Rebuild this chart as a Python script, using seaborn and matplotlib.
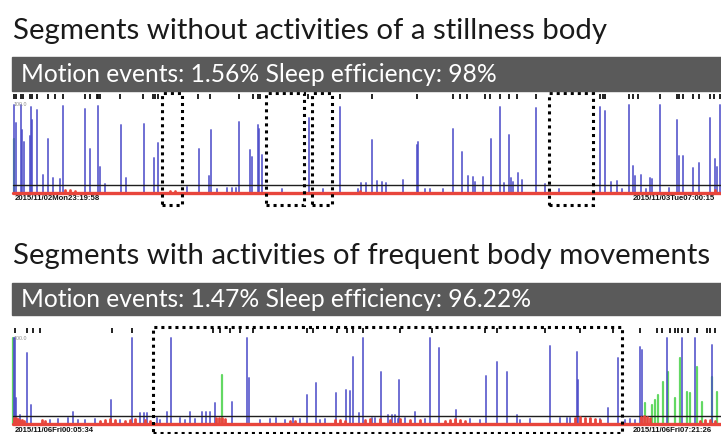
import numpy as np
import pandas as pd
import matplotlib
matplotlib.use("Agg")
import matplotlib.pyplot as plt
import seaborn as sns
from matplotlib.patches import Rectangle

sns.set_theme(style="white")
plt.rcParams['font.family'] = ['Lato', 'DejaVu Sans']

W, H = 721, 434

# ---------------- text ----------------
titles = ["Segments without activities of a stillness body",
          "Segments with activities of frequent body movements"]
summaries = ["Motion events: 1.56% Sleep efficiency: 98%",
             "Motion events: 1.47% Sleep efficiency: 96.22%"]
start_labels = ["2015/11/02Mon23:19:58", "2015/11/06Fri00:05:34"]
end_labels = ["2015/11/03Tue07:00:15", "2015/11/06Fri07:21:26"]
scale_label = "100.0"
threshold = 9.0

# ---------------- night 1 ----------------
n1_spike_t = [14, 16, 21, 22, 24, 30, 31, 32, 37, 43, 48, 53, 60, 63, 85, 90, 98, 100,
              105, 121, 126, 144, 154, 158, 187, 199, 209, 211, 217, 227, 232, 236, 239,
              250, 252, 258, 259, 262, 282, 309, 323, 340, 358, 361, 366, 372, 377, 382,
              386, 403, 417, 418, 425, 430, 443, 453, 462, 468, 473, 475, 483, 491, 500,
              504, 509, 511, 513, 518, 522, 536, 545, 559, 600, 605, 611, 617, 622, 629,
              633, 635, 641, 646, 650, 652, 660, 669, 677, 679, 683, 693, 699, 710, 715,
              717, 720]
n1_spike_v = [100, 80, 100, 72, 58, 65, 98, 83, 94, 20, 61, 17, 16, 99, 95, 50, 99, 30,
              10, 77, 17, 78, 40, 57, 7, 50, 19, 72, 4, 6, 6, 6, 81,
              49, 41, 77, 73, 43, 4, 85, 4, 98, 4, 11, 11, 60, 14, 12,
              11, 15, 55, 58, 4, 4, 5, 73, 47, 19, 18, 12, 18, 61, 98,
              11, 66, 17, 12, 23, 15, 97, 10, 4, 98, 93, 12, 14, 4, 100,
              31, 19, 20, 5, 17, 16, 100, 6, 83, 42, 42, 28, 34, 85, 39,
              30, 100]
n1_green_t = [14]
n1_green_v = [61]
n1_rest_t = [65, 70, 75, 170, 175, 360, 715]
n1_rest_v = [3, 3, 2, 2, 2, 2, 3]
n1_event_t = [14, 16, 21, 23, 30, 32, 37, 48, 55, 63, 85, 90, 97, 98, 100, 120, 143,
              153, 155, 158, 198, 210, 239, 253, 258, 260, 308, 340, 372, 417, 453, 460,
              467, 485, 490, 500, 509, 517, 536, 600, 603, 605, 629, 633, 638, 660, 677,
              679, 683, 693, 699, 710, 714, 720]
n1_quiet_start = [162, 266, 312, 549]
n1_quiet_end = [182, 304, 332, 593]

# ---------------- night 2 ----------------
n2_spike_t = [14, 15, 16, 20, 27, 31, 50, 58, 68, 73, 78, 85, 95, 111, 120, 132, 140,
              144, 147, 157, 160, 167, 171, 180, 185, 190, 195, 202, 206, 210, 215, 232,
              247, 249, 260, 270, 276, 285, 293, 300, 307, 316, 320, 325, 336, 346, 350,
              353, 359, 363, 372, 375, 381, 388, 392, 395, 398, 399, 405, 415, 425, 430,
              439, 456, 470, 480, 486, 497, 507, 517, 520, 530, 550, 560, 567, 570, 577,
              578, 590, 600, 608, 618, 625, 630, 635, 640, 642, 667, 682, 695, 712]
n2_spike_v = [100, 100, 30, 10, 82, 22, 4, 5, 6, 13, 4, 4, 5, 27, 4, 100, 12,
              12, 12, 6, 4, 13, 100, 6, 4, 13, 5, 13, 13, 13, 24, 25,
              100, 53, 4, 5, 6, 4, 6, 5, 33, 47, 4, 5, 36, 39, 38,
              78, 12, 100, 6, 6, 60, 10, 10, 10, 5, 51, 6, 13, 5, 100,
              88, 16, 5, 4, 56, 72, 60, 10, 4, 5, 91, 6, 6, 6, 84,
              51, 5, 5, 18, 77, 4, 5, 4, 89, 86, 100, 100, 100, 92]
n2_green_t = [13, 222, 645, 652, 655, 658, 663, 668, 675, 680, 687, 690, 697, 702, 712,
              717]
n2_green_v = [100, 57, 24, 22, 27, 33, 49, 60, 30, 77, 37, 36, 66, 25, 54, 37]
n2_rest_t = [14, 16, 18, 20, 22, 24, 42, 45, 100, 105, 110, 115, 125, 130, 135, 145,
             150, 216, 219, 222, 225, 290, 295, 335, 340, 345, 365, 370, 380, 390, 400,
             410, 420, 445, 450, 455, 460, 465, 575, 580, 585, 590, 595, 600, 641, 644,
             647, 650, 700, 705, 710, 715]
n2_rest_v = [6, 7, 5, 4, 4, 3, 4, 3, 3, 4, 5, 4, 3, 4, 5, 4,
             3, 6, 7, 6, 5, 3, 3, 4, 4, 3, 4, 5, 5, 4, 5,
             4, 4, 3, 4, 5, 4, 3, 6, 8, 7, 6, 5, 4, 8, 9,
             8, 6, 3, 4, 4, 3]
n2_event_t = [15, 27, 33, 40, 112, 132, 213, 220, 230, 240, 253, 307, 313, 337, 347,
              353, 363, 400, 432, 485, 497, 545, 580, 613, 640, 657, 662, 670, 675, 678,
              682, 688, 697, 707, 710, 715]
n2_quiet_start = [153]
n2_quiet_end = [622]

BLUE = "#4a4ac8"
GREEN = "#52d452"
RED = "#e8453c"
BAR = "#5a5a5a"

fig = plt.figure(figsize=(W / 100, H / 100), dpi=100)
fig.patch.set_facecolor("white")


def fy(py):
    return 1 - py / H


def spikes_frame(t, v):
    rows = []
    for i, (ti, vi) in enumerate(zip(t, v)):
        rows.append((i, ti, 0.0))
        rows.append((i, ti, vi))
    return pd.DataFrame(rows, columns=["spike", "t", "level"])


def draw_night(rect, y_lo, y_hi, spike_t, spike_v, green_t, green_v, rest_t, rest_v,
               event_t, q_start, q_end, box_lo, box_hi, ev_lo, ev_hi,
               start_lab, end_lab, lab_y):
    ax = fig.add_axes(rect)
    ax.set_xlim(0, W)
    ax.set_ylim(y_lo, y_hi)
    ax.axis("off")

    # baseline and motion threshold
    sns.lineplot(x=[13, W], y=[threshold, threshold], ax=ax, color="#1e1e1e",
                 lw=1.0, zorder=3)
    sns.lineplot(x=[13, W], y=[0, 0], ax=ax, color=RED, lw=2.4, zorder=4)

    # movement spikes
    sns.lineplot(data=spikes_frame(spike_t, spike_v), x="t", y="level", units="spike",
                 estimator=None, sort=False, ax=ax, color=BLUE, lw=1.4, alpha=0.8,
                 zorder=2)
    sns.lineplot(data=spikes_frame(green_t, green_v), x="t", y="level", units="spike",
                 estimator=None, sort=False, ax=ax, color=GREEN, lw=1.6, alpha=0.9,
                 zorder=1)
    sns.lineplot(data=spikes_frame(rest_t, rest_v), x="t", y="level", units="spike",
                 estimator=None, sort=False, ax=ax, color=RED, lw=2.0, zorder=4)

    # event markers above the trace
    ax.vlines(event_t, ev_lo, ev_hi, color="#111111", lw=1.3, clip_on=False)

    # highlighted segments
    for a, b in zip(q_start, q_end):
        ax.add_patch(Rectangle((a, box_lo), b - a, box_hi - box_lo, fill=False,
                               ec="black", lw=2.2, ls=(0, (1, 1.3)), clip_on=False,
                               zorder=6))

    ax.text(14, 100, scale_label, fontsize=3.8, color="#888888",
            family="Liberation Sans", va="center", ha="left")
    ax.text(15, lab_y, start_lab, fontsize=5.6, weight="bold", color="#111111",
            family="Liberation Sans", va="center", ha="left", clip_on=False)
    ax.text(633, lab_y, end_lab, fontsize=5.6, weight="bold", color="#111111",
            family="Liberation Sans", va="center", ha="left", clip_on=False)
    return ax


def fit_text(x, y, s, width_px, size, **kw):
    t = fig.text(x / W, fy(y), s, fontsize=size, **kw)
    r = fig.canvas.get_renderer()
    w = t.get_window_extent(r).width
    t.set_fontsize(size * width_px / w)
    return t


# headings and summary bars
fit_text(13, 39, titles[0], 594, 24, color="#1a1a1a", va="baseline")
fit_text(13, 264, titles[1], 698, 24, color="#1a1a1a", va="baseline")
for top, bot in [(57, 91), (283, 315)]:
    fig.patches.append(Rectangle((12 / W, fy(bot)), (W - 12) / W, (bot - top) / H,
                                 transform=fig.transFigure, color=BAR, zorder=0))
fit_text(21, 82, summaries[0], 476, 18, color="white", va="baseline")
fit_text(21, 307, summaries[1], 511, 18, color="white", va="baseline")

# night 1: zero at y=193 px, 0.88 px per unit
k1 = 0.88
draw_night([0, fy(200), 1, 100 / H], -(200 - 193) / k1, (193 - 100) / k1,
           n1_spike_t, n1_spike_v, n1_green_t, n1_green_v, n1_rest_t, n1_rest_v,
           n1_event_t, n1_quiet_start, n1_quiet_end,
           -(205 - 193) / k1, (193 - 93) / k1, (193 - 99) / k1, (193 - 93.5) / k1,
           start_labels[0], end_labels[0], -(198.5 - 193) / k1)

# night 2: zero at y=423.5 px, 0.855 px per unit
k2 = 0.855
draw_night([0, fy(428), 1, 96 / H], -(428 - 423.5) / k2, (423.5 - 332) / k2,
           n2_spike_t, n2_spike_v, n2_green_t, n2_green_v, n2_rest_t, n2_rest_v,
           n2_event_t, n2_quiet_start, n2_quiet_end,
           -(433 - 423.5) / k2, (423.5 - 327) / k2, (423.5 - 333) / k2,
           (423.5 - 327.5) / k2,
           start_labels[1], end_labels[1], -(430 - 423.5) / k2)

fig.savefig("out.png", dpi=100, facecolor="white")
